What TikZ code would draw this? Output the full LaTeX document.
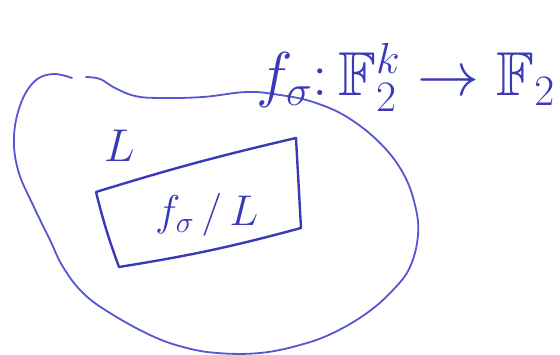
\RequirePackage{fix-cm}
\documentclass[tikz,border=0pt]{standalone}
\usepackage{amssymb}
\definecolor{penblue}{RGB}{86,86,210}
\definecolor{inkblue}{RGB}{58,58,184}
\begin{document}
\begin{tikzpicture}[x=1pt,y=-1pt,
  ink/.style={draw=penblue, line width=1.8pt, line cap=round, line join=round},
  boxink/.style={draw=inkblue, line width=2.4pt, line cap=round, line join=round},
  hand/.style={text=inkblue, inner sep=0pt}]
\useasboundingbox (0,0) rectangle (560,355);
% outer region
\draw[ink] plot[smooth, tension=0.65] coordinates {(86,77) (100,79) (115,88) (135,96) (160,98) (203,97) (247,92) (280,95) (313,102) (347,117) (380,143) (403,173) (415,205) (418,235) (410,267) (393,290) (367,313) (333,333) (300,345) (260,353) (217,353) (183,347) (150,335) (110,313) (83,293) (63,267) (50,240) (32,203) (18,170) (14,136) (21,103) (35,81) (53,74) (72,78)};
% inner box
\coordinate (tl) at (96,192);
\coordinate (tr) at (296,138);
\coordinate (br) at (301,228);
\coordinate (bl) at (119,267);
\draw[boxink] (tl) to[bend left=2] (tr) -- (br) to[bend left=3] (bl) to[bend left=3] (tl);
% texts
\node[hand, anchor=base west, font=\fontsize{62}{70}\selectfont] (map) at (256,96) {$f_\sigma\colon \mathbb{F}_2^k\to\mathbb{F}_2$};
\node[hand, anchor=base west, font=\fontsize{46}{54}\selectfont] (lab) at (104,162) {$L$};
\node[hand, anchor=base west, font=\fontsize{43}{50}\selectfont] (restr) at (155,226) {$f_\sigma\,/\,L$};
\end{tikzpicture}
\end{document}
